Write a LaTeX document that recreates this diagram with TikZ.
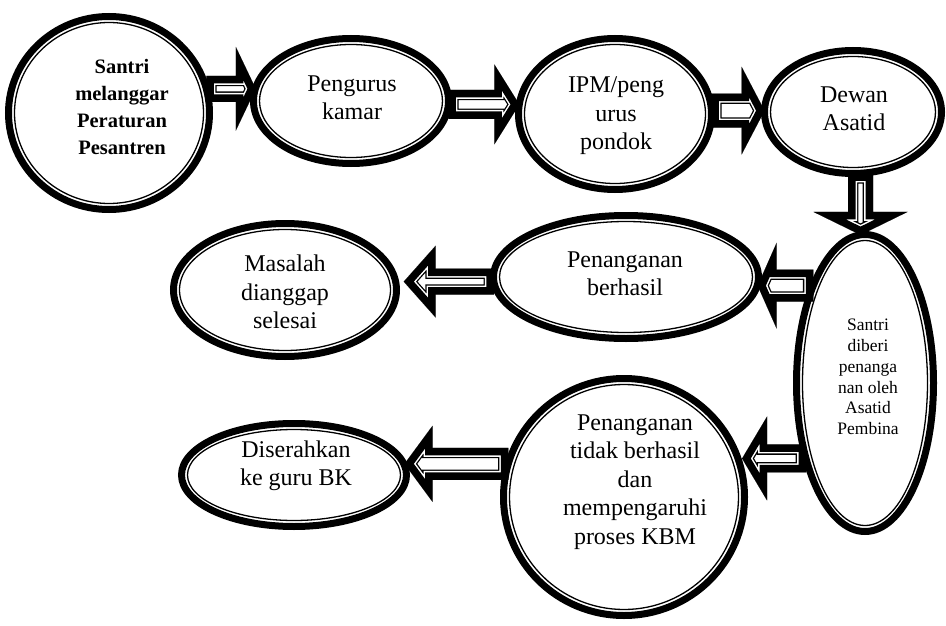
\documentclass[tikz,border=0pt]{standalone}
\usepackage{fontspec}
\setmainfont{Liberation Serif}
\usetikzlibrary{shapes.geometric,calc,backgrounds}

% block arrow with a thick-thin outline, drawn from one named coordinate to another
\newdimen\arrdx
\newdimen\arrdy
\newcommand\blockarrow[5]{%
  \pgfextractx{\arrdx}{\pgfpointdiff{\pgfpointanchor{#1}{center}}{\pgfpointanchor{#2}{center}}}%
  \pgfextracty{\arrdy}{\pgfpointdiff{\pgfpointanchor{#1}{center}}{\pgfpointanchor{#2}{center}}}%
  \pgfmathsetmacro\arrlen{veclen(\the\arrdx,\the\arrdy)}%
  \pgfmathsetmacro\arrang{atan2(\the\arrdy,\the\arrdx)}%
  \pgfmathsetmacro\arrneck{\arrlen-#5}%
  \begin{scope}[shift={(#1)}, rotate=\arrang, x=1pt, y=1pt, line join=miter, miter limit=25]
    \clip (0,-#3) -- (\arrneck,-#3) -- (\arrneck,-#4) -- (\arrlen,0) -- (\arrneck,#4) -- (\arrneck,#3) -- (0,#3) -- cycle;
    \fill[white] (0,-#3) -- (\arrneck,-#3) -- (\arrneck,-#4) -- (\arrlen,0) -- (\arrneck,#4) -- (\arrneck,#3) -- (0,#3) -- cycle;
    \draw[black, line width=20.6pt] (0,-#3) -- (\arrneck,-#3) -- (\arrneck,-#4) -- (\arrlen,0) -- (\arrneck,#4) -- (\arrneck,#3) -- (0,#3) -- cycle;
    \draw[white, line width=18pt] (0,-#3) -- (\arrneck,-#3) -- (\arrneck,-#4) -- (\arrlen,0) -- (\arrneck,#4) -- (\arrneck,#3) -- (0,#3) -- cycle;
    \draw[black, line width=15pt] (0,-#3) -- (\arrneck,-#3) -- (\arrneck,-#4) -- (\arrlen,0) -- (\arrneck,#4) -- (\arrneck,#3) -- (0,#3) -- cycle;
  \end{scope}}
% horizontal arrow: the tip is levelled with the tail
\newcommand\harrow[5]{%
  \path #1 coordinate (arr-tail) #2 coordinate (arr-aim);
  \coordinate (arr-tip) at (arr-aim |- arr-tail);
  \blockarrow{arr-tail}{arr-tip}{#3}{#4}{#5}}
% vertical arrow: the tip is in line with the tail
\newcommand\varrow[5]{%
  \path #1 coordinate (arr-tail) #2 coordinate (arr-aim);
  \coordinate (arr-tip) at (arr-tail |- arr-aim);
  \blockarrow{arr-tail}{arr-tip}{#3}{#4}{#5}}
% ellipse with a thick outer ring and a thin inner ring
\newcommand\bubble[5]{%
  \node[shell, minimum width={2*#4-7}, minimum height={2*#5-7}] (#1) at (#2,#3) {};
  \draw[line width=1.3pt] (#1.center) ellipse [x radius={#4-9.5}, y radius={#5-9.5}];}

\tikzset{
  shell/.style={ellipse, draw, line width=7pt, inner sep=0pt, outer sep=0pt},
  lbl/.style={align=center, inner sep=0pt, font=\fontsize{24}{28.5}\selectfont},
  lblbold/.style={align=center, inner sep=0pt, font=\fontsize{20.5}{26.7}\selectfont\bfseries},
  lblsmall/.style={align=center, inner sep=0pt, font=\fontsize{17.5}{20.7}\selectfont}
}

\begin{document}
\begin{tikzpicture}[x=1pt, y=-1pt]
  \useasboundingbox (0,0) rectangle (946,626);
  \begin{pgfonlayer}{background}
    \fill[white] (0,0) rectangle (946,626);
  \end{pgfonlayer}

  % stations
  \bubble{E1}{109}{113}{104}{100}
  \bubble{E2}{351}{101}{101}{66}
  \bubble{E3}{615}{114}{100}{79}
  \bubble{E4}{853}{112}{92}{65}
  \bubble{E5}{865}{383}{72}{152}
  \bubble{E6}{626}{277}{136}{65}
  \bubble{E7}{285}{290}{115}{70}
  \bubble{E8}{624}{497}{124}{122}
  \bubble{E9}{294}{475}{116}{55}

  % labels
  \node[lblbold] (E1-t) at (122,107) {Santri\\melanggar\\Peraturan\\Pesantren};
  \node[lbl] (E2-t) at (352,98) {Pengurus\\kamar};
  \node[lbl] (E3-t) at (616,116) {IPM/peng\\urus\\pondok};
  \node[lbl] (E4-t) at (854,109) {Dewan\\Asatid};
  \node[lblsmall] (E5-t) at (868,377) {Santri\\diberi\\penanga\\nan oleh\\Asatid\\Pembina};
  \node[lbl] (E6-t) at (625,274) {Penanganan\\berhasil};
  \node[lbl] (E7-t) at (285,292) {Masalah\\dianggap\\selesai};
  \node[lbl] (E8-t) at (635,482) {Penanganan\\tidak berhasil\\dan\\mempengaruhi\\proses KBM};
  \node[lbl] (E9-t) at (296,466) {Diserahkan\\ke guru BK};

  % flow arrows, kept under the rings
  \begin{pgfonlayer}{background}
    \harrow{(E1.14)}{(E2.172)}{13}{42}{20}
    \harrow{(E2.358)}{(E3.174)}{14.5}{40}{25}
    \harrow{(E3.2)}{(E4.179)}{17}{44}{23}
    \varrow{(E4.277)}{(E5.92)}{12.5}{47}{23}
    \harrow{(E5.118)}{(E6.357)}{16}{43}{19}
    \harrow{(E6.182)}{($(E7.4)+(8,0)$)}{13}{36}{32}
    \harrow{(E5.232)}{($(E8.17)+(3,0)$)}{14}{42}{25}
    \harrow{(E8.164)}{(E9.5)}{16}{38}{28}
  \end{pgfonlayer}
\end{tikzpicture}
\end{document}
